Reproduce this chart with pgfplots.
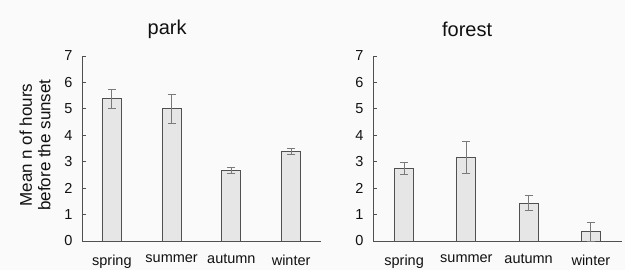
\documentclass[border=0pt]{standalone}
\usepackage{fontspec}
\setmainfont{Liberation Sans}
\usepackage{pgfplots}
\pgfplotsset{compat=1.18}
\definecolor{bgc}{HTML}{FAFAFA}
\definecolor{barfill}{HTML}{E6E6E6}
\definecolor{bardraw}{HTML}{505050}
\definecolor{axc}{HTML}{505050}
\definecolor{errc}{HTML}{7A7A7A}
\definecolor{txt}{HTML}{111111}
\pgfplotsset{
  myax/.style={
    scale only axis,
    anchor=south west,
    height=185pt,
    xmin=-0.5, xmax=3.5,
    ymin=0, ymax=7,
    ytick={0,1,...,7},
    xtick={0,1,2,3},
    xticklabels={spring,summer,autumn,winter},
    axis lines=left,
    axis line style={-, draw=axc, line width=0.8pt},
    every tick/.style={draw=axc, line width=0.8pt},
    tick align=inside,
    major tick length=4pt,
    x tick style={draw=none},
    tick label style={font=\fontsize{14.5}{16}\selectfont, text=txt},
    /pgf/number format/assume math mode=true,
    yticklabel style={xshift=-6pt},
    xticklabel style={yshift=-10pt},
    title style={font=\fontsize{20}{22}\selectfont, text=txt, anchor=center, yshift=21pt},
    clip=false,
  },
  mybar/.style={
    ybar, bar width=19pt, fill=barfill, draw=bardraw, line width=0.8pt,
    error bars/.cd, y dir=both, y explicit,
    error bar style={draw=errc, line width=0.8pt},
    error mark options={rotate=90, mark size=4pt, draw=errc, line width=0.8pt},
  },
}
\begin{document}
\begin{tikzpicture}[x=1pt,y=1pt]
\fill[bgc] (0,0) rectangle (625,270);
\useasboundingbox (0,0) rectangle (625,270);
\begin{axis}[myax, at={(82pt,29pt)}, width=239pt,
  title={park}, title style={at={(rel axis cs:0.356,1)}}]
\addplot[mybar] coordinates {
  (0,5.38) +- (0,0.37)
  (1,5.00) +- (0,0.55)
  (2,2.68) +- (0,0.12)
  (3,3.40) +- (0,0.11)
};
\end{axis}
\begin{axis}[myax, at={(373pt,29pt)}, width=249pt,
  title={forest}, title style={at={(rel axis cs:0.378,1)}}]
\addplot[mybar] coordinates {
  (0,2.76) +- (0,0.23)
  (1,3.15) +- (0,0.60)
  (2,1.43) +- (0,0.28)
  (3,0.36) +- (0,0.36)
};
\end{axis}
\node[rotate=90, align=center, font=\fontsize{17}{18.5}\selectfont, text=txt] at (35,125) {Mean n of hours\\before the sunset};
\end{tikzpicture}
\end{document}
